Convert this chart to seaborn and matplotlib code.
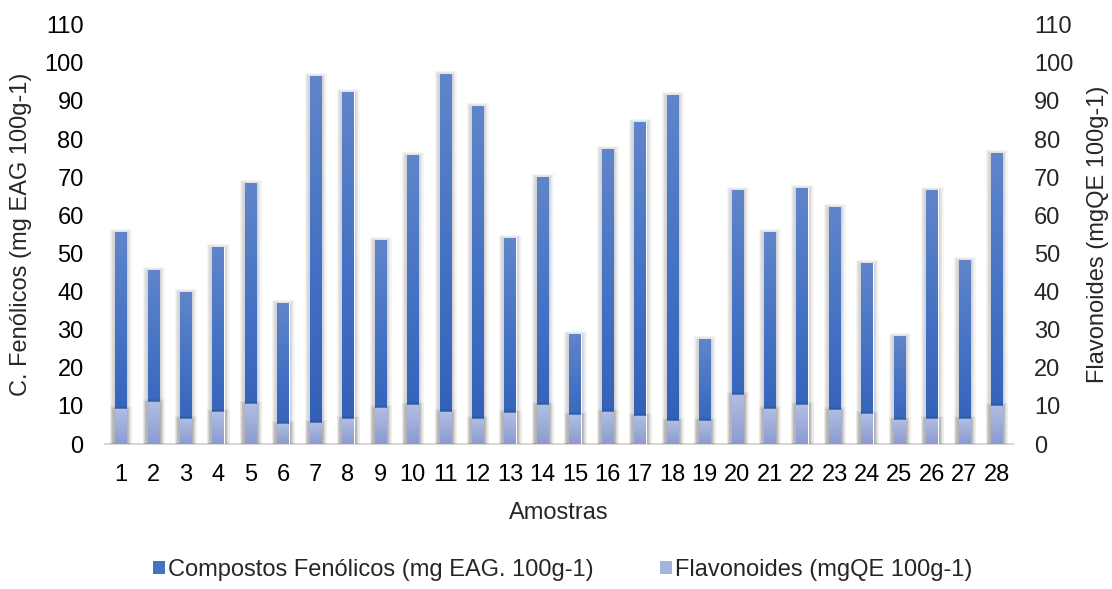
import numpy as np
import pandas as pd
import seaborn as sns
import matplotlib.pyplot as plt
import matplotlib.patheffects as pe
from matplotlib.colors import LinearSegmentedColormap
from matplotlib.patches import Patch

amostras = [str(i) for i in range(1, 29)]
fenolicos = [55.7, 45.7, 39.9, 51.7, 68.5, 37.0, 96.6, 92.4, 53.5, 75.9,
             97.1, 88.7, 54.1, 70.1, 29.0, 77.4, 84.5, 91.6, 27.6, 66.7,
             55.6, 67.2, 62.2, 47.5, 28.3, 66.7, 48.3, 76.4]
flavonoides = [9.3, 11.1, 6.6, 8.5, 10.6, 5.3, 5.6, 6.6, 9.5, 10.3,
               8.5, 6.6, 8.2, 10.3, 7.7, 8.5, 7.4, 6.1, 6.1, 12.9,
               9.3, 10.3, 9.0, 8.0, 6.4, 6.6, 6.6, 10.1]
yticks = list(range(0, 111, 10))

df = pd.DataFrame({"Amostras": amostras, "fen": fenolicos, "flav": flavonoides})

sns.set_style("white")
plt.rcParams['font.family'] = ['Liberation Sans', 'DejaVu Sans']
FS = 17

fig = plt.figure(figsize=(11.12, 5.89), dpi=100)
ax = fig.add_axes([0.094, 0.246, 0.817, 0.712])

blue_cmap = LinearSegmentedColormap.from_list("b", ["#2f5fb5", "#4472c4", "#6085cb"])
light_cmap = LinearSegmentedColormap.from_list("l", ["#8c9bcf", "#b1bee4"])

sns.barplot(data=df, x="Amostras", y="fen", color="#4472c4", width=0.35,
            saturation=1, ax=ax, zorder=2)
n_fen = len(ax.patches)
sns.barplot(data=df, x="Amostras", y="flav", color="#a5b3df", width=0.35,
            saturation=1, ax=ax, zorder=3)

# soft shadow around each bar, then a vertical gradient clipped to the bar
halo = [pe.Stroke(offset=(0, -1.5), linewidth=lw, foreground="#000000", alpha=a)
        for lw, a in [(8, 0.035), (6, 0.05), (4, 0.07), (2, 0.09)]]
grad = np.linspace(0, 1, 100).reshape(-1, 1)
for i, p in enumerate(ax.patches):
    p.set_path_effects(halo + [pe.Normal()])
    x0, y0, w, h = p.get_x(), p.get_y(), p.get_width(), p.get_height()
    cmap = blue_cmap if i < n_fen else light_cmap
    im = ax.imshow(grad, extent=[x0, x0 + w, y0, y0 + h], aspect='auto',
                   cmap=cmap, origin='lower', zorder=p.get_zorder() + 0.1)
    im.set_clip_path(p)

ax.set_xlim(-0.5, len(amostras) - 0.5)
ax.set_ylim(0, 110)
ax.set_yticks(yticks)
for s in ["top", "right", "left"]:
    ax.spines[s].set_visible(False)
ax.spines["bottom"].set_color("#d9d9d9")
ax.spines["bottom"].set_linewidth(1.5)
ax.spines["bottom"].set_zorder(1)
ax.tick_params(axis="y", length=0, labelsize=FS, colors="black", pad=15)
ax.tick_params(axis="x", length=0, labelsize=FS, colors="black", pad=14)
ax.set_xlabel("Amostras", fontsize=FS, labelpad=12)
ax.set_ylabel("C. Fenólicos (mg EAG 100g-1)", fontsize=FS, labelpad=9)

ax2 = ax.twinx()
ax2.set_ylim(0, 110)
ax2.set_yticks(yticks)
for s in ["top", "right", "left", "bottom"]:
    ax2.spines[s].set_visible(False)
ax2.tick_params(axis="y", length=0, labelsize=FS, pad=15)
ax2.set_ylabel("Flavonoides (mgQE 100g-1)", fontsize=FS, labelpad=10)

handles = [Patch(facecolor="#4472c4", edgecolor="none"),
           Patch(facecolor="#a5b3df", edgecolor="none")]
fig.legend(handles, ["Compostos Fenólicos (mg EAG. 100g-1)", "Flavonoides (mgQE 100g-1)"],
           loc="lower center", bbox_to_anchor=(0.506, -0.022), ncol=2, frameon=False,
           fontsize=FS, handlelength=0.5, handleheight=0.5, handletextpad=0.15,
           columnspacing=2.8)

fig.savefig("out.png", dpi=100)
